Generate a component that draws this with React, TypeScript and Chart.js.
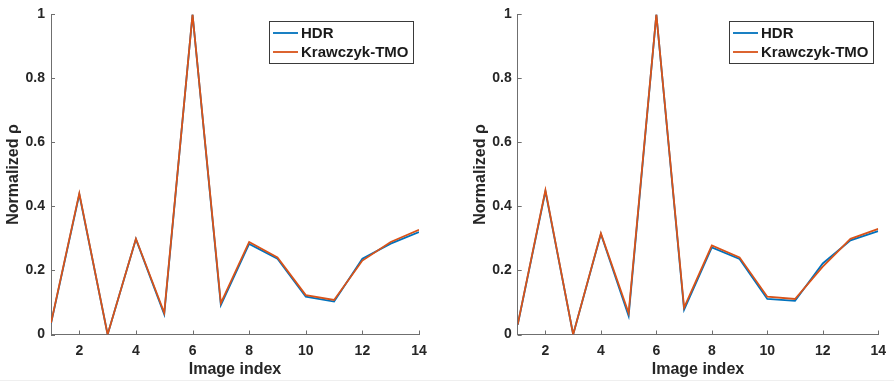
import React, { useEffect, useRef } from 'react';
import { Chart, registerables } from 'chart.js';

Chart.register(...registerables);

const imageIndex = [1, 2, 3, 4, 5, 6, 7, 8, 9, 10, 11, 12, 13, 14];
const xTickValues = [2, 4, 6, 8, 10, 12, 14];
const yTickValues = [0, 0.2, 0.4, 0.6, 0.8, 1];
const yTickLabels = ['0', '0.2', '0.4', '0.6', '0.8', '1'];
const seriesNames = ['HDR', 'Krawczyk-TMO'];
const seriesColors = ['#0072BD', '#D95319'];

const leftHDR = [0.034, 0.438, 0.0, 0.298, 0.063, 1.0, 0.092, 0.283, 0.237, 0.118, 0.103, 0.237, 0.284, 0.32];
const leftTMO = [0.036, 0.441, 0.0, 0.299, 0.068, 1.0, 0.098, 0.289, 0.241, 0.123, 0.108, 0.231, 0.289, 0.327];
const rightHDR = [0.03, 0.447, 0.0, 0.314, 0.058, 1.0, 0.077, 0.272, 0.236, 0.111, 0.105, 0.222, 0.294, 0.323];
const rightTMO = [0.031, 0.451, 0.0, 0.316, 0.067, 1.0, 0.084, 0.278, 0.241, 0.118, 0.111, 0.212, 0.299, 0.33];

const FONT = '"Liberation Sans", Arial, Helvetica, sans-serif';
const TEXT = '#262626';
const AXIS = '#6f6f6f';

const tickMarkPlugin = {
  id: 'tickMarks',
  afterDraw(chart: any) {
    const { ctx, chartArea, scales } = chart;
    ctx.save();
    ctx.strokeStyle = AXIS;
    ctx.lineWidth = 1;
    ctx.beginPath();
    scales.x.ticks.forEach((t: any) => {
      const px = Math.round(scales.x.getPixelForValue(t.value)) + 0.5;
      ctx.moveTo(px, chartArea.bottom);
      ctx.lineTo(px, chartArea.bottom - 4);
    });
    scales.y.ticks.forEach((t: any) => {
      const py = Math.round(scales.y.getPixelForValue(t.value)) + 0.5;
      ctx.moveTo(chartArea.left, py);
      ctx.lineTo(chartArea.left + 4, py);
    });
    ctx.stroke();
    ctx.restore();
  },
};

const boxLegendPlugin = {
  id: 'boxLegend',
  afterDraw(chart: any, _args: any, opts: any) {
    const { ctx } = chart;
    const { x, y, w, h } = opts;
    ctx.save();
    ctx.fillStyle = '#ffffff';
    ctx.fillRect(x, y, w, h);
    ctx.strokeStyle = '#3a3a3a';
    ctx.lineWidth = 1;
    ctx.strokeRect(x + 0.5, y + 0.5, w, h);
    ctx.font = `bold 15px ${FONT}`;
    ctx.textBaseline = 'middle';
    ctx.textAlign = 'left';
    chart.data.datasets.forEach((ds: any, i: number) => {
      const cy = y + 12 + i * 19;
      ctx.strokeStyle = ds.borderColor;
      ctx.lineWidth = 1.8;
      ctx.beginPath();
      ctx.moveTo(x + 4, cy);
      ctx.lineTo(x + 29, cy);
      ctx.stroke();
      ctx.fillStyle = '#1a1a1a';
      ctx.fillText(ds.label, x + 32, cy + 0.5);
    });
    ctx.restore();
  },
};

type PanelProps = {
  hdr: number[];
  tmo: number[];
  width: number;
  padLeft: number;
  padRight: number;
  left: number;
  legendX: number;
};

function Panel({ hdr, tmo, width, padLeft, padRight, left, legendX }: PanelProps) {
  const ref = useRef<HTMLCanvasElement | null>(null);
  useEffect(() => {
    if (!ref.current) return;
    const series = [hdr, tmo];
    const chart = new Chart(ref.current, {
      type: 'line',
      data: {
        datasets: seriesNames.map((name, i) => ({
          label: name,
          data: imageIndex.map((x, k) => ({ x, y: series[i][k] })),
          borderColor: seriesColors[i],
          backgroundColor: seriesColors[i],
          borderWidth: 1.8,
          pointRadius: 0,
          tension: 0,
          fill: false,
          order: i === 0 ? 2 : 1,
        })),
      },
      options: {
        responsive: false,
        animation: false,
        devicePixelRatio: 1,
        layout: { padding: { left: padLeft, right: padRight, top: 10, bottom: 0 } },
        plugins: {
          legend: { display: false },
          tooltip: { enabled: false },
          boxLegend: { x: legendX, y: 21, w: 144, h: 42 },
        } as any,
        scales: {
          x: {
            type: 'linear',
            min: 1,
            max: 14,
            afterBuildTicks: (s: any) => {
              s.ticks = xTickValues.map((v) => ({ value: v }));
            },
            afterFit: (s: any) => {
              s.height = 48.5;
            },
            grid: { display: true, drawOnChartArea: false, drawTicks: false, color: 'rgba(0,0,0,0)' },
            border: { display: true, color: AXIS, width: 1 },
            ticks: {
              autoSkip: false,
              maxRotation: 0,
              padding: 8,
              color: TEXT,
              font: { family: FONT, size: 14, weight: 'bold' },
            },
            title: {
              display: true,
              text: 'Image index',
              color: TEXT,
              font: { family: FONT, size: 16, weight: 'bold' },
              padding: { top: 0, bottom: 3.5 },
            },
          },
          y: {
            type: 'linear',
            min: 0,
            max: 1,
            afterBuildTicks: (s: any) => {
              s.ticks = yTickValues.map((v) => ({ value: v }));
            },
            afterFit: (s: any) => {
              s.width = 51;
            },
            grid: { display: true, drawOnChartArea: false, drawTicks: false, color: 'rgba(0,0,0,0)' },
            border: { display: true, color: AXIS, width: 1 },
            ticks: {
              padding: 6,
              color: TEXT,
              font: { family: FONT, size: 14, weight: 'bold' },
              callback: (v: any) => {
                const idx = yTickValues.findIndex((t) => Math.abs(t - Number(v)) < 1e-9);
                return idx >= 0 ? yTickLabels[idx] : String(v);
              },
            },
            title: {
              display: true,
              text: 'Normalized ρ',
              color: TEXT,
              font: { family: FONT, size: 16, weight: 'bold' },
              padding: { top: 4, bottom: 0 },
            },
          },
        },
      } as any,
      plugins: [tickMarkPlugin, boxLegendPlugin],
    });
    return () => chart.destroy();
  }, [hdr, tmo, width, padLeft, padRight, legendX]);

  return (
    <canvas
      ref={ref}
      width={width}
      height={383}
      style={{ position: 'absolute', left, top: 0, width, height: 383 }}
    />
  );
}

export default function App() {
  return (
    <div style={{ position: 'fixed', left: 0, top: 0, width: 894, height: 383, background: '#fff', overflow: 'hidden' }}>
      <Panel hdr={leftHDR} tmo={leftTMO} width={440} padLeft={0} padRight={21} left={0} legendX={269} />
      <Panel hdr={rightHDR} tmo={rightTMO} width={454} padLeft={26.7} padRight={8.3} left={440} legendX={289} />
      <div style={{ position: 'absolute', left: 0, top: 380, width: 894, height: 1, background: '#efefef' }} />
    </div>
  );
}
